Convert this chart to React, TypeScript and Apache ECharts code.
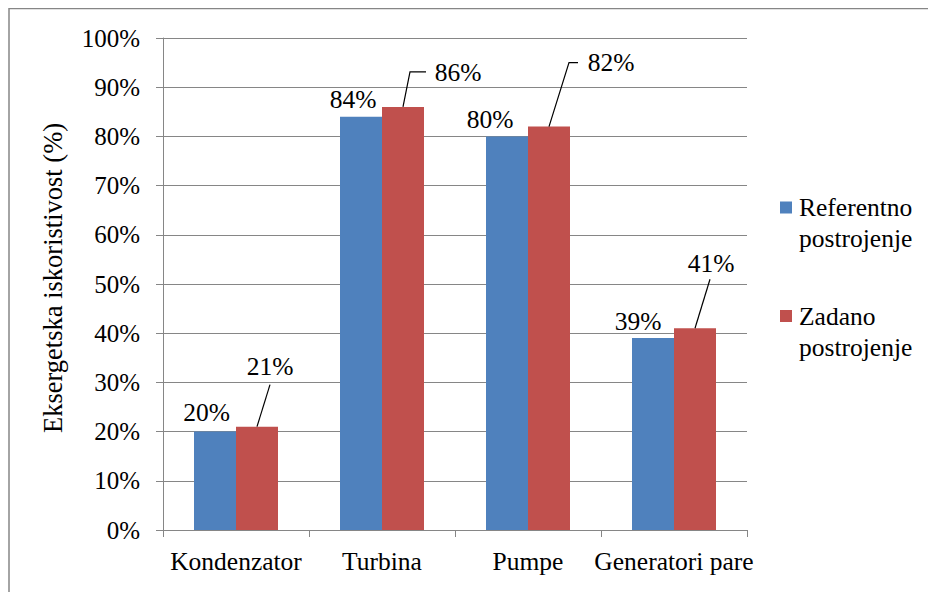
import React, { useEffect, useRef } from "react";
import * as echarts from "echarts";

const categories = ["Kondenzator", "Turbina", "Pumpe", "Generatori pare"];
const seriesNames = ["Referentno\npostrojenje", "Zadano\npostrojenje"];
const referentno = [20, 84, 80, 39];
const zadano = [21, 86, 82, 41];
const yAxisName = "Eksergetska iskoristivost (%)";

// label layout (pixel offsets from bar top-centre)
const blueLabelOffsets = [[-8.5, -19], [-8, -17], [-17, -17], [-15, -17]];
const redLabelOffsets = [[13, -60], [55, -34], [62, -64], [16, -65]];
const redLeaderLines = [
  [[0, 0], [13, -42]],
  [[0, 0], [7, -35], [23, -35]],
  [[0, 0], [20, -64], [29, -64]],
  [[0, 0], [15, -49]],
];

const FONT = "Liberation Serif";
const BLUE = "#4F81BD";
const RED = "#C0504D";
const GRAY = "#868686";
const BAR_W = 42;

export default function App() {
  const ref = useRef<HTMLDivElement>(null);
  useEffect(() => {
    if (!ref.current) return;
    const chart = echarts.init(ref.current, undefined, { renderer: "svg" });
    const option: any = {
      animation: false,
      backgroundColor: "#fff",
      textStyle: { fontFamily: FONT },
      grid: { left: 155, top: 30, width: 584, height: 492, containLabel: false },
      legend: {
        orient: "vertical",
        left: 772,
        top: 153,
        padding: 0,
        itemGap: 15.5,
        itemWidth: 12,
        itemHeight: 12,
        icon: "rect",
        data: seriesNames,
        formatter: (name: string) => "\n" + name,
        textStyle: {
          fontFamily: FONT,
          fontSize: 25.5,
          color: "#000",
          lineHeight: 31,
          padding: [0, 0, 0, 2],
        },
      },
      xAxis: {
        type: "category",
        data: categories,
        axisLine: { show: true, lineStyle: { color: GRAY, width: 1 } },
        axisTick: { show: true, length: 7, lineStyle: { color: GRAY } },
        axisLabel: { fontFamily: FONT, fontSize: 25.5, color: "#000", margin: 18, interval: 0 },
        splitLine: { show: false },
      },
      yAxis: {
        type: "value",
        min: 0,
        max: 100,
        interval: 10,
        name: yAxisName,
        nameLocation: "middle",
        nameGap: 97,
        nameTextStyle: { fontFamily: FONT, fontSize: 26.5, color: "#000", padding: [0, 0, 0, 12] },
        axisLine: { show: true, lineStyle: { color: GRAY, width: 1 } },
        axisTick: { show: true, length: 7, lineStyle: { color: GRAY } },
        axisLabel: { fontFamily: FONT, fontSize: 25, color: "#000", margin: 23, formatter: "{value}%" },
        splitLine: { show: true, lineStyle: { color: GRAY, width: 1 } },
      },
      series: [
        {
          name: seriesNames[0],
          type: "bar",
          data: referentno,
          barWidth: BAR_W,
          barGap: "0%",
          itemStyle: { color: BLUE },
        },
        {
          name: seriesNames[1],
          type: "bar",
          data: zadano,
          barWidth: BAR_W,
          barGap: "0%",
          itemStyle: { color: RED },
        },
        {
          type: "custom",
          clip: false,
          z: 10,
          data: categories.map((_, i) => [i, referentno[i], zadano[i]]),
          encode: { x: 0, y: 1 },
          renderItem: (params: any, api: any) => {
            const i = params.dataIndex;
            const b = api.coord([i, referentno[i]]);
            const r = api.coord([i, zadano[i]]);
            const bx = b[0] - BAR_W / 2;
            const by = b[1];
            const rx = r[0] + BAR_W / 2;
            const ry = r[1];
            const textStyle = (t: string, x: number, y: number) => ({
              type: "text",
              style: {
                text: t,
                x,
                y,
                align: "center",
                verticalAlign: "middle",
                fontFamily: FONT,
                fontSize: 25.5,
                fill: "#000",
              },
            });
            return {
              type: "group",
              children: [
                {
                  type: "polyline",
                  shape: { points: redLeaderLines[i].map((p) => [rx + p[0], ry + p[1]]) },
                  style: { stroke: "#000", lineWidth: 1.2, fill: "none" },
                },
                textStyle(
                  referentno[i] + "%",
                  bx + blueLabelOffsets[i][0],
                  by + blueLabelOffsets[i][1]
                ),
                textStyle(
                  zadano[i] + "%",
                  rx + redLabelOffsets[i][0],
                  ry + redLabelOffsets[i][1]
                ),
              ],
            };
          },
        },
      ],
      graphic: [
        { type: "line", shape: { x1: 1, y1: 0.5, x2: 928, y2: 0.5 }, style: { stroke: GRAY, lineWidth: 1.5 } },
        { type: "line", shape: { x1: 1, y1: 0, x2: 1, y2: 584 }, style: { stroke: GRAY, lineWidth: 1.5 } },
      ],
    };
    chart.setOption(option);
    return () => chart.dispose();
  }, []);
  return <div ref={ref} style={{ width: 928, height: 584 }} />;
}
